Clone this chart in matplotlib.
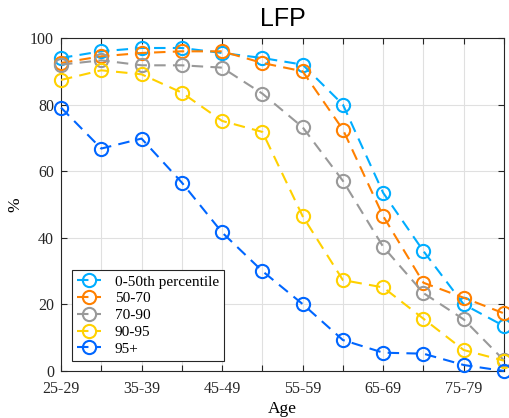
import numpy as np
import matplotlib
matplotlib.use("Agg")
import matplotlib.pyplot as plt
from matplotlib.legend_handler import HandlerLine2D

age_groups = ["25-29", "30-34", "35-39", "40-44", "45-49", "50-54",
              "55-59", "60-64", "65-69", "70-74", "75-79", "80-84"]
series_names = ["0-50th percentile", "50-70", "70-90", "90-95", "95+"]
p0_50 = [94, 96, 97, 97, 95.5, 94, 92, 80, 53.5, 36, 20, 13.5]
p50_70 = [92.5, 94.5, 95.5, 96, 96, 92.5, 90, 72.5, 46.5, 26.5, 22, 17.3]
p70_90 = [92, 93.3, 91.8, 91.8, 91.1, 83.3, 73.2, 57.1, 37.3, 23.4, 15.5, 3.2]
p90_95 = [87.4, 90.3, 89.1, 83.6, 75.1, 71.8, 46.5, 27.3, 25.1, 15.7, 6.3, 3.1]
p95 = [79.1, 66.8, 69.8, 56.6, 41.6, 30, 20.1, 9.3, 5.5, 5.2, 1.8, 0]
colors = [(0.0, 0.68, 1.0), (1.0, 0.5, 0.0), (0.6, 0.6, 0.6), (1.0, 0.82, 0.0), (0.0, 0.4, 1.0)]
all_series = [p0_50, p50_70, p70_90, p90_95, p95]

x = np.arange(1, len(age_groups) + 1)

fig = plt.figure(figsize=(5.09, 4.18), dpi=100)
ax = fig.add_axes([61/509, 1 - 371/418, (504 - 61)/509, (371 - 38)/418])

for vals, name, c in zip(all_series, series_names, colors):
    ax.plot(x, vals, linestyle=(0, (5.5, 3.5)), color=c, linewidth=1.5,
            marker='o', markersize=9.5, markerfacecolor='none',
            markeredgewidth=1.5, label=name, clip_on=False, zorder=3)

serif = "Liberation Serif"
ax.set_xlim(1, 12)
ax.set_ylim(0, 100)
ax.set_xticks(x)
ax.set_xticklabels([g if i % 2 == 0 else "" for i, g in enumerate(age_groups)],
                   fontfamily=serif, fontsize=11.5)
ax.set_yticks([0, 20, 40, 60, 80, 100])
ax.set_yticklabels(["0", "20", "40", "60", "80", "100"], fontfamily=serif, fontsize=11.5)
ax.tick_params(direction='in', top=True, right=True, length=4, width=0.8,
               colors='#262626')
ax.tick_params(axis='x', pad=7)
ax.tick_params(axis='y', pad=5)
ax.grid(True, color='#e0e0e0', linewidth=0.8, zorder=0)
ax.set_axisbelow(True)
for s in ax.spines.values():
    s.set_color('#262626')
    s.set_linewidth(0.8)

ax.set_title("LFP", fontfamily="Liberation Sans", fontsize=18, pad=9)
ax.set_xlabel("Age", fontfamily=serif, fontsize=12.5, labelpad=3)
ax.set_ylabel("%", fontfamily=serif, fontsize=12.5, labelpad=5)


class RightMarker(HandlerLine2D):
    def get_xdata(self, legend, xdescent, ydescent, width, height, fontsize):
        xdata = np.array([-xdescent, -xdescent + width])
        xdata_marker = np.array([-xdescent + width * 0.72])
        return xdata, xdata_marker


leg = ax.legend(loc='lower left', bbox_to_anchor=(0.025, 0.03),
                prop={'family': serif, 'size': 11}, frameon=True, fancybox=False,
                edgecolor='#262626', framealpha=1, labelspacing=0.2,
                handlelength=1.55, handletextpad=0.9, borderpad=0.35,
                borderaxespad=0, handler_map={matplotlib.lines.Line2D: RightMarker()})
leg.get_frame().set_linewidth(0.8)

fig.savefig("out.png", dpi=100)
